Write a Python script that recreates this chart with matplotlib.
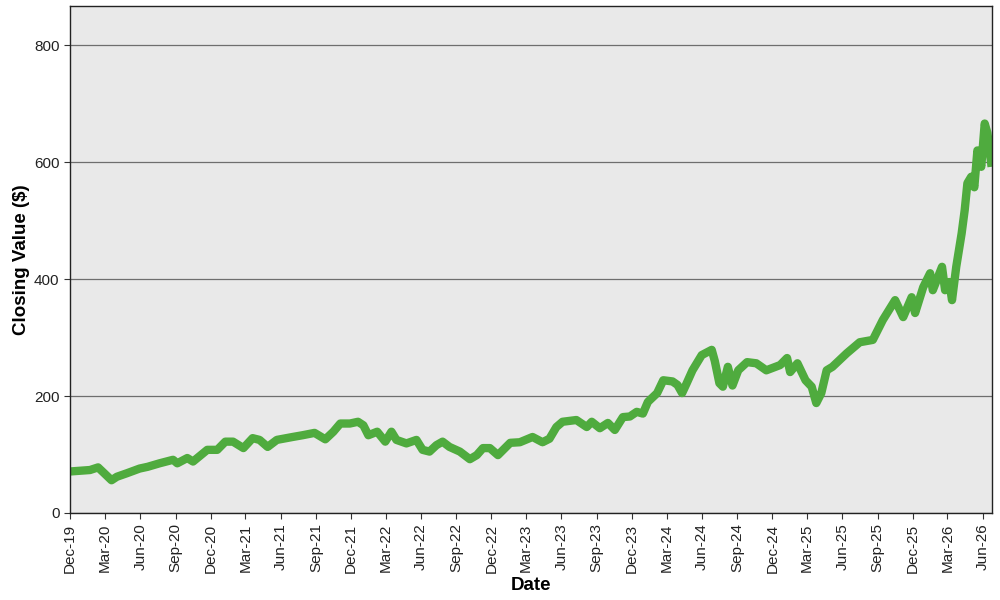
import pandas as pd
import numpy as np
import matplotlib
matplotlib.use('Agg')
import matplotlib.pyplot as plt
import matplotlib.dates as mdates

plt.rcParams['font.family'] = ['Liberation Sans', 'DejaVu Sans']

# closing values
dates = ['2019-12-01', '2020-01-22', '2020-02-12', '2020-02-28', '2020-03-18', '2020-04-01',
         '2020-04-27', '2020-05-30', '2020-06-20', '2020-07-21', '2020-08-25', '2020-09-05',
         '2020-10-01', '2020-10-16', '2020-11-22', '2020-12-18', '2021-01-08', '2021-01-28',
         '2021-02-24', '2021-03-20', '2021-04-07', '2021-04-28', '2021-05-22', '2021-07-02',
         '2021-07-28', '2021-08-28', '2021-09-25', '2021-10-16', '2021-11-03', '2021-11-28',
         '2021-12-19', '2022-01-02', '2022-01-15', '2022-02-07', '2022-02-28', '2022-03-16',
         '2022-03-29', '2022-04-24', '2022-05-20', '2022-06-05', '2022-06-23', '2022-07-11',
         '2022-07-27', '2022-08-14', '2022-09-10', '2022-10-06', '2022-10-24', '2022-11-09',
         '2022-11-27', '2022-12-18', '2023-01-19', '2023-02-13', '2023-03-18', '2023-04-13',
         '2023-05-01', '2023-05-19', '2023-06-04', '2023-07-10', '2023-08-06', '2023-08-19',
         '2023-09-09', '2023-09-30', '2023-10-18', '2023-11-08', '2023-11-26', '2023-12-14',
         '2023-12-30', '2024-01-12', '2024-02-05', '2024-02-21', '2024-03-16', '2024-03-29',
         '2024-04-10', '2024-04-22', '2024-05-07', '2024-05-31', '2024-06-26', '2024-07-04',
         '2024-07-16', '2024-07-25', '2024-08-07', '2024-08-19', '2024-09-03', '2024-09-26',
         '2024-10-20', '2024-11-15', '2024-12-21', '2025-01-08', '2025-01-16', '2025-02-04',
         '2025-02-25', '2025-03-13', '2025-03-25', '2025-04-07', '2025-04-21', '2025-05-06',
         '2025-06-12', '2025-07-16', '2025-08-19', '2025-09-14', '2025-10-16', '2025-11-06',
         '2025-11-28', '2025-12-07', '2025-12-28', '2026-01-15', '2026-01-22', '2026-02-15',
         '2026-02-23', '2026-03-06', '2026-03-13', '2026-03-24', '2026-04-07', '2026-04-15',
         '2026-04-22', '2026-05-02', '2026-05-10', '2026-05-18', '2026-05-28', '2026-06-06',
         '2026-06-13', '2026-06-24']
closing = [71, 73.5, 78, 68, 56, 62,
           68, 76, 79, 85, 91, 85,
           94, 88, 108, 108, 122, 122,
           111, 128, 125, 113, 125, 130,
           133, 137, 126, 139, 153, 153,
           156, 150, 133, 139, 122, 139,
           125, 119, 125, 108, 105, 116,
           122, 113, 105, 92, 99, 111,
           111, 99, 120, 121, 130, 121,
           127, 147, 156, 159, 147, 156,
           145, 154, 142, 164, 165, 173,
           170, 190, 205, 227, 225, 219,
           205, 222, 244, 270, 279, 260,
           222, 216, 250, 218, 244, 258,
           256, 244, 253, 265, 241, 256,
           227, 216, 188, 205, 244, 250,
           273, 292, 296, 330, 364, 335,
           369, 342, 386, 410, 381, 421,
           381, 395, 364, 421, 478, 518,
           564, 575, 557, 620, 592, 666,
           650, 592]

df = pd.DataFrame({'Date': pd.to_datetime(dates), 'Close': closing})

fig = plt.figure(figsize=(10, 6), dpi=100)
ax = fig.add_axes([0.07, 0.145, 0.922, 0.845])
ax.set_facecolor('#e9e9e9')
ax.plot(df.Date, df.Close, color='#4fab3e', lw=6, solid_joinstyle='round', solid_capstyle='butt')

ax.set_ylim(0, 867)
ax.set_yticks([0, 200, 400, 600, 800])
ax.set_xlim(pd.Timestamp('2019-12-01'), pd.Timestamp('2026-06-25'))
ax.xaxis.set_major_locator(mdates.MonthLocator(bymonth=[3, 6, 9, 12]))
ax.xaxis.set_major_formatter(mdates.DateFormatter('%b-%y'))
plt.setp(ax.get_xticklabels(), rotation=90)
ax.tick_params(labelsize=11, length=4, color='#333333', labelcolor='#222222')

ax.grid(axis='y', color='#6e6e6e', lw=0.9)
ax.set_axisbelow(True)
for s in ax.spines.values():
    s.set_color('#222222')
    s.set_linewidth(1)

ax.set_xlabel('Date', fontsize=13.5, fontweight='bold', labelpad=3)
ax.set_ylabel('Closing Value ($)', fontsize=13.5, fontweight='bold', labelpad=3)

plt.savefig('out.png')
plt.close()
